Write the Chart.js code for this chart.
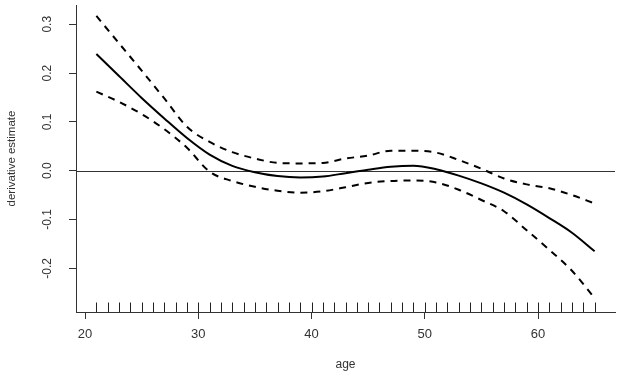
<!DOCTYPE html>
<html>
<head>
<meta charset="utf-8">
<script src="https://cdn.jsdelivr.net/npm/chart.js@4"></script>
<style>
  html,body{margin:0;padding:0;background:#fff;}
  #wrap{width:628px;height:377px;}
</style>
</head>
<body>
<div id="wrap"><canvas id="chart" width="628" height="377"></canvas></div>
<script>
// --- Data ---
const ages     = [21,23,25,27,29,31,33,35,37,39,41,43,45,47,49,51,53,55,57,59,61,63,65];
const estimate = [0.239,0.194,0.149,0.107,0.067,0.033,0.010,-0.003,-0.011,-0.014,-0.012,-0.005,0.002,0.008,0.010,0.003,-0.010,-0.026,-0.045,-0.069,-0.097,-0.127,-0.165];
const upper    = [0.317,0.261,0.205,0.148,0.090,0.059,0.038,0.025,0.016,0.015,0.016,0.025,0.031,0.041,0.041,0.037,0.022,0.004,-0.016,-0.028,-0.036,-0.050,-0.067];
const lower    = [0.162,0.141,0.116,0.085,0.047,-0.002,-0.021,-0.033,-0.041,-0.045,-0.042,-0.034,-0.025,-0.021,-0.020,-0.024,-0.039,-0.060,-0.083,-0.122,-0.162,-0.205,-0.261];
const rugAges  = [21,22,23,24,25,26,27,28,29,30,31,32,33,34,35,36,37,38,39,40,41,42,43,44,45,46,47,48,49,50,51,52,53,54,55,56,57,58,59,60,61,62,63,64,65];
const xTicks   = [20,30,40,50,60];
const yTicks   = [-0.2,-0.1,0.0,0.1,0.2,0.3];

const pts = arr => ages.map((a,i)=>({x:a,y:arr[i]}));
const FONT = "'Liberation Sans', Arial, sans-serif";

// --- zero line + rug ---
const extras = {
  id:'extras',
  beforeDatasetsDraw(chart){
    const {ctx, chartArea:a, scales:{x,y}} = chart;
    ctx.save();
    ctx.strokeStyle='#333'; ctx.lineWidth=1;
    const y0 = Math.round(y.getPixelForValue(0))+0.5;
    ctx.beginPath(); ctx.moveTo(a.left,y0); ctx.lineTo(a.right,y0); ctx.stroke();
    ctx.strokeStyle='#222';
    rugAges.forEach(v=>{
      const px = Math.round(x.getPixelForValue(v))+0.5;
      ctx.beginPath(); ctx.moveTo(px,a.bottom); ctx.lineTo(px,a.bottom-9.5); ctx.stroke();
    });
    ctx.restore();
  }
};

const line = (data,dash)=>({
  data, borderColor:'#000', borderWidth:2, borderDash:dash,
  pointRadius:0, tension:0.4, cubicInterpolationMode:'monotone', fill:false
});

new Chart(document.getElementById('chart'),{
  type:'line',
  data:{datasets:[ line(pts(upper),[7,6]), line(pts(estimate),[]), line(pts(lower),[7,6]) ]},
  options:{
    responsive:false, animation:false, events:[],
    layout:{padding:{top:5,right:13,left:0,bottom:0}},
    plugins:{legend:{display:false},tooltip:{enabled:false}},
    scales:{
      x:{
        type:'linear', min:19.2, max:66.8,
        afterBuildTicks:s=>{ s.ticks = xTicks.map(v=>({value:v})); },
        afterFit:s=>{ s.height = 65; s.paddingLeft = 0; s.paddingRight = 0; },
        grid:{drawOnChartArea:false, tickLength:7, color:'#333'},
        border:{display:true, color:'#333', width:1},
        ticks:{color:'#333', font:{family:FONT,size:13}, padding:8, maxRotation:0, autoSkip:false},
        title:{display:true, text:'age', color:'#333', font:{family:FONT,size:12}, padding:{top:0,bottom:5}}
      },
      y:{
        min:-0.2895, max:0.3395,
        afterBuildTicks:s=>{ s.ticks = yTicks.map(v=>({value:v})); },
        afterFit:s=>{ s.width = 76; s.paddingTop = 0; s.paddingBottom = 0; },
        grid:{drawOnChartArea:false, tickLength:7, color:'#333'},
        border:{display:true, color:'#333', width:1},
        ticks:{color:'#333', font:{family:FONT,size:12}, padding:11, minRotation:90, maxRotation:90,
               crossAlign:'center', autoSkip:false, callback:v=>v.toFixed(1)},
        title:{display:true, text:'derivative estimate', color:'#333', font:{family:FONT,size:11.5}, padding:{top:5,bottom:0}}
      }
    }
  },
  plugins:[extras]
});
</script>
</body>
</html>
